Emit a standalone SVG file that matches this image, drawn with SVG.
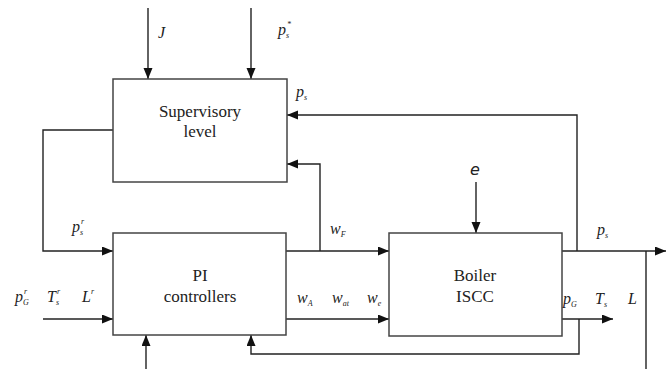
<svg xmlns="http://www.w3.org/2000/svg" width="666" height="369" viewBox="0 0 666 369">
<defs>
<marker id="ah" markerUnits="userSpaceOnUse" markerWidth="12" markerHeight="10" refX="11" refY="4.5" orient="auto">
<path d="M0,0 L11,4.5 L0,9 z" fill="#111"/>
</marker>
<style>
.box{fill:#fff;stroke:#444;stroke-width:1.5}
.t{font-size:17px;fill:#222;text-anchor:middle}
.v{font-style:italic;font-size:16px;fill:#222}
.s{font-size:8px}
.c{fill:none;stroke:#222;stroke-width:1.4}
.a{marker-end:url(#ah)}
</style>
</defs>
<rect width="666" height="369" fill="#fff"/>
<g id="connectors">
<path class="c a" d="M148,8 V79"/>
<path class="c a" d="M251,8 V79"/>
<path class="c a" d="M577,251 V115 H287"/>
<path class="c a" d="M320,251 V164 H287"/>
<path class="c a" d="M286,251 H389"/>
<path class="c a" d="M476,182 V233"/>
<path class="c a" d="M113,130 H43 V251 H113"/>
<path class="c a" d="M43,319 H113"/>
<path class="c a" d="M286,319 H389"/>
<path class="c a" d="M562,251 H666"/>
<path class="c a" d="M562,319 H613"/>
<path class="c a" d="M579,319 V354 H251 V335"/>
<path class="c a" d="M146,369 V335"/>
<path class="c" d="M646,251 V369"/>
</g>
<g font-family="'Liberation Serif', 'DejaVu Serif', serif">
<g id="supervisory">
<rect class="box" x="113" y="79" width="174" height="103"/>
<text class="t" x="200" y="117">Supervisory</text>
<text class="t" x="200" y="137">level</text>
</g>
<g id="pi">
<rect class="box" x="113" y="233" width="173" height="102"/>
<text class="t" x="200" y="281">PI</text>
<text class="t" x="200" y="302">controllers</text>
</g>
<g id="boiler">
<rect class="box" x="389" y="233" width="173" height="103"/>
<text class="t" x="475" y="281">Boiler</text>
<text class="t" x="475" y="302">ISCC</text>
</g>
<g id="labels">
<text class="v" x="158" y="38" font-size="19">J</text>
<text class="v" x="278" y="35">p<tspan class="s" dy="3">s</tspan></text>
<text class="v s" x="287" y="27">*</text>
<text class="v" x="296" y="97">p<tspan class="s" dy="3">s</tspan></text>
<text class="v" x="470" y="175" font-family="DejaVu Sans, sans-serif" font-size="20">e</text>
<text class="v" x="72" y="232">p<tspan class="s" dy="3">s</tspan></text>
<text class="v s" x="81" y="224">r</text>
<text class="v" x="15" y="302">p<tspan class="s" dy="3">G</tspan></text>
<text class="v s" x="24" y="294">r</text>
<text class="v" x="47" y="302">T<tspan class="s" dy="3">s</tspan></text>
<text class="v s" x="57" y="294">r</text>
<text class="v" x="82" y="302">L</text>
<text class="v s" x="91" y="294">r</text>
<text class="v" x="330" y="234">w<tspan class="s" dy="3">F</tspan></text>
<text class="v" x="297" y="303">w<tspan class="s" dy="3">A</tspan></text>
<text class="v" x="332" y="303">w<tspan class="s" dy="3">at</tspan></text>
<text class="v" x="367" y="303">w<tspan class="s" dy="3">e</tspan></text>
<text class="v" x="597" y="235">p<tspan class="s" dy="3">s</tspan></text>
<text class="v" x="563" y="304">p<tspan class="s" dy="3">G</tspan></text>
<text class="v" x="595" y="304">T<tspan class="s" dy="3">s</tspan></text>
<text class="v" x="628" y="304">L</text>
</g>
</g>
</svg>
